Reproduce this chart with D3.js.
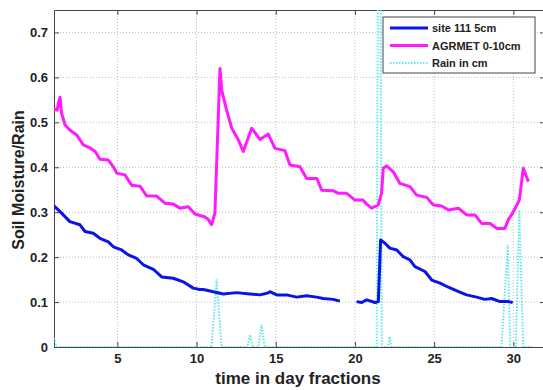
<!DOCTYPE html>
<html>
<head>
<meta charset="utf-8">
<script src="https://cdn.jsdelivr.net/npm/d3@7"></script>
<style>
  body { margin: 0; background: #fff; }
  #vis svg { display: block; font-family: "Liberation Sans", Arial, sans-serif; }
</style>
</head>
<body>
<div id="vis"></div>
<script>
// soil moisture at site 111, 5cm depth ([day, value], null = missing)
const site111 = [
  [1, 0.314], [1.48, 0.298], [2.0, 0.279], [2.64, 0.272], [2.96, 0.257], [3.48, 0.253],
  [3.9, 0.242], [4.43, 0.234], [4.75, 0.223], [5.27, 0.216], [5.69, 0.205], [6.22, 0.197],
  [6.64, 0.183], [7.27, 0.173], [7.8, 0.156], [8.53, 0.153], [9.16, 0.145], [9.79, 0.131],
  [10.2, 0.128], [10.43, 0.128], [11.06, 0.123], [11.69, 0.118], [12.53, 0.121], [13.37, 0.118],
  [14.0, 0.116], [14.5, 0.12], [14.63, 0.123], [15.06, 0.116], [15.69, 0.116], [16.32, 0.111],
  [16.95, 0.114], [17.58, 0.111], [18.0, 0.108], [18.63, 0.106], [19.05, 0.102],
  [19.5, null],
  [20.1, 0.101], [20.43, 0.099], [20.74, 0.105], [21.27, 0.099], [21.48, 0.101], [21.62, 0.238],
  [21.9, 0.231], [22.2, 0.22], [22.64, 0.216], [23.05, 0.201], [23.47, 0.194], [23.79, 0.179],
  [24.42, 0.168], [24.85, 0.149], [25.37, 0.142], [25.9, 0.133], [26.43, 0.125], [27.05, 0.116],
  [27.68, 0.111], [28.2, 0.106], [28.63, 0.108], [29.16, 0.101], [29.68, 0.101], [29.96, 0.099]
];

// AGRMET 0-10cm
const agrmet = [
  [1, 0.53], [1.2, 0.527], [1.28, 0.543], [1.38, 0.556], [1.48, 0.52], [1.7, 0.494], [2.0, 0.483],
  [2.43, 0.472], [2.85, 0.45], [3.27, 0.443], [3.6, 0.435], [3.9, 0.418], [4.43, 0.416],
  [4.75, 0.401], [4.96, 0.387], [5.48, 0.383], [5.9, 0.36], [6.43, 0.358], [6.85, 0.336],
  [7.48, 0.336], [8.0, 0.32], [8.53, 0.318], [8.95, 0.309], [9.48, 0.312], [9.9, 0.296],
  [10.5, 0.29], [10.74, 0.284], [10.95, 0.272], [11.16, 0.298], [11.48, 0.62], [11.59, 0.572],
  [11.9, 0.527], [12.22, 0.487], [12.64, 0.461], [12.95, 0.435], [13.48, 0.487], [14.0, 0.462],
  [14.53, 0.474], [14.95, 0.442], [15.58, 0.437], [15.9, 0.405], [16.53, 0.401], [16.95, 0.375],
  [17.6, 0.375], [17.9, 0.349], [18.63, 0.348], [18.95, 0.342], [19.48, 0.342], [20.0, 0.327],
  [20.5, 0.327], [20.74, 0.318], [21.05, 0.309], [21.47, 0.316], [21.68, 0.342], [21.79, 0.398],
  [22.0, 0.403], [22.42, 0.39], [22.84, 0.364], [23.47, 0.357], [23.9, 0.338], [24.53, 0.333],
  [24.95, 0.316], [25.48, 0.314], [25.9, 0.305], [26.53, 0.309], [27.05, 0.294], [27.58, 0.294],
  [28.0, 0.275], [28.53, 0.275], [28.95, 0.264], [29.47, 0.264], [29.68, 0.283], [30.0, 0.301],
  [30.38, 0.327], [30.63, 0.398], [30.95, 0.368]
];

// rain in cm
const rain = [
  [1, 0.02], [1.15, 0], [10.95, 0], [11.27, 0.15], [11.58, 0], [13.2, 0], [13.37, 0.027],
  [13.55, 0], [13.9, 0], [14.1, 0.05], [14.3, 0], [21.37, 0], [21.47, 1.0], [21.6, 1.0],
  [21.7, 0], [22.1, 0], [22.2, 0.023], [22.3, 0], [29.25, 0], [29.65, 0.227], [29.8, 0],
  [30.15, 0], [30.38, 0.305], [30.62, 0], [31.2, 0]
];

const xTicks = [5, 10, 15, 20, 25, 30];
const yTicks = [0, 0.1, 0.2, 0.3, 0.4, 0.5, 0.6, 0.7];
const legendLabels = ["site 111 5cm", "AGRMET 0-10cm", "Rain in cm"];

const W = 543, H = 390;
const margin = { top: 10, left: 54, bottom: 43 };
const x = d3.scaleLinear().domain([1, 32]).range([margin.left, 545]);
const y = d3.scaleLinear().domain([0, 0.75]).range([H - margin.bottom, margin.top]);

const svg = d3.select("#vis").append("svg")
  .attr("width", W)
  .attr("height", H);

svg.append("defs").append("clipPath").attr("id", "plot")
  .append("rect")
  .attr("x", x(1)).attr("y", y(0.75))
  .attr("width", x(32) - x(1)).attr("height", y(0) - y(0.75));

// GRIDLINES
const grid = svg.append("g").attr("stroke", "#bdbdbd").attr("stroke-dasharray", "1,2");
grid.selectAll(".gx").data(xTicks).enter().append("line")
  .attr("x1", d => x(d)).attr("x2", d => x(d))
  .attr("y1", y(0)).attr("y2", y(0.75));
grid.selectAll(".gy").data(yTicks.slice(1)).enter().append("line")
  .attr("x1", x(1)).attr("x2", x(32))
  .attr("y1", d => y(d)).attr("y2", d => y(d));

// AXES (ticks inward, matlab style)
const styleAxis = g => {
  g.select(".domain").attr("stroke", "#444");
  g.selectAll(".tick line").attr("stroke", "#444");
  g.selectAll("text")
    .attr("font-size", "13px")
    .attr("font-weight", "bold")
    .attr("fill", "#222");
};

svg.append("g")
  .attr("transform", `translate(0,${y(0)})`)
  .call(d3.axisBottom(x).tickValues(xTicks).tickSize(-5).tickSizeOuter(0).tickPadding(7))
  .call(styleAxis);

svg.append("g")
  .attr("transform", `translate(${x(1)},0)`)
  .call(d3.axisLeft(y).tickValues(yTicks).tickFormat(d3.format("~g")).tickSize(-5).tickSizeOuter(0).tickPadding(6))
  .call(styleAxis);

svg.append("g")
  .attr("transform", `translate(0,${y(0.75)})`)
  .call(d3.axisTop(x).tickValues(xTicks).tickSize(-5).tickSizeOuter(0).tickFormat(""))
  .call(styleAxis);

svg.append("g")
  .attr("transform", `translate(${x(32)},0)`)
  .call(d3.axisRight(y).tickValues(yTicks).tickSize(-5).tickSizeOuter(0).tickFormat(""))
  .call(styleAxis);

// DATA LINES
const line = d3.line()
  .defined(d => d[1] !== null)
  .x(d => x(d[0]))
  .y(d => y(d[1]));

const plot = svg.append("g").attr("clip-path", "url(#plot)");

plot.append("path")
  .datum(rain)
  .attr("fill", "none")
  .attr("stroke", "#5fe8f0")
  .attr("stroke-width", 2)
  .attr("stroke-dasharray", "1.5,1.5")
  .attr("d", line);

plot.append("path")
  .datum(site111)
  .attr("fill", "none")
  .attr("stroke", "#0a14e6")
  .attr("stroke-width", 3)
  .attr("stroke-linejoin", "round")
  .attr("d", line);

plot.append("path")
  .datum(agrmet)
  .attr("fill", "none")
  .attr("stroke", "#ff1aff")
  .attr("stroke-width", 3)
  .attr("stroke-linejoin", "round")
  .attr("d", line);

// LEGEND
const legend = svg.append("g").attr("transform", "translate(383,17)");
legend.append("rect")
  .attr("width", 152).attr("height", 56)
  .attr("fill", "#fff").attr("stroke", "#444");

const legendStyles = [
  { color: "#0a14e6", width: 3, dash: null },
  { color: "#ff1aff", width: 3, dash: null },
  { color: "#5fe8f0", width: 2, dash: "1.5,1.5" }
];

legendLabels.forEach((label, i) => {
  const yy = 11 + i * 17.5;
  legend.append("line")
    .attr("x1", 7).attr("x2", 45)
    .attr("y1", yy).attr("y2", yy)
    .attr("stroke", legendStyles[i].color)
    .attr("stroke-width", legendStyles[i].width)
    .attr("stroke-dasharray", legendStyles[i].dash);
  legend.append("text")
    .attr("x", 49).attr("y", yy + 4)
    .attr("font-size", "11px")
    .attr("font-weight", "bold")
    .attr("fill", "#222")
    .text(label);
});

// AXIS LABELS
svg.append("text")
  .attr("x", 298).attr("y", 384)
  .attr("text-anchor", "middle")
  .attr("font-size", "17px")
  .attr("font-weight", "bold")
  .attr("fill", "#222")
  .text("time in day fractions");

svg.append("text")
  .attr("transform", "translate(24,180) rotate(-90)")
  .attr("text-anchor", "middle")
  .attr("font-size", "16px")
  .attr("font-weight", "bold")
  .attr("fill", "#222")
  .text("Soil Moisture/Rain");
</script>
</body>
</html>
